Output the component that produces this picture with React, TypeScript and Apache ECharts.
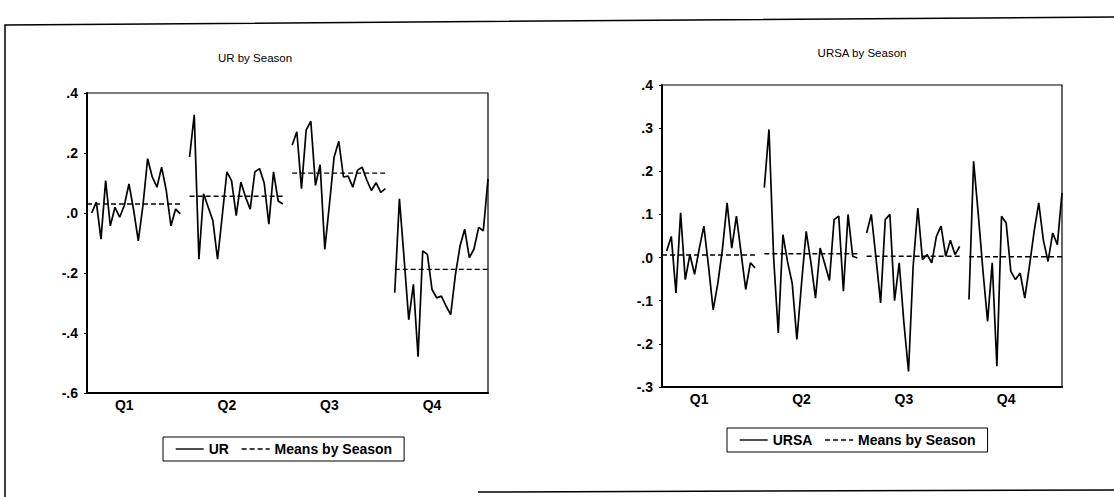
import React, { useEffect, useRef } from 'react';
import * as echarts from 'echarts';

// ---- data ----
const SEASONS = ['Q1', 'Q2', 'Q3', 'Q4'];

const UR_Q1 = [null, 0.0, 0.036, -0.087, 0.108, -0.043, 0.019, -0.014, 0.025, 0.097, 0.01, -0.093, 0.025, 0.181, 0.12, 0.086, 0.153, 0.075, -0.043, 0.013, -0.003];
const UR_Q2 = [0.187, 0.327, -0.154, 0.064, 0.019, -0.026, -0.154, -0.01, 0.137, 0.108, -0.009, 0.103, 0.053, 0.013, 0.137, 0.148, 0.1, -0.037, 0.137, 0.04, 0.03];
const UR_Q3 = [0.226, 0.271, 0.081, 0.276, 0.306, 0.092, 0.161, -0.121, 0.03, 0.187, 0.239, 0.12, 0.123, 0.086, 0.142, 0.153, 0.11, 0.075, 0.101, 0.069, 0.081];
const UR_Q4 = [-0.266, 0.047, -0.15, -0.356, -0.238, -0.479, -0.126, -0.138, -0.255, -0.283, -0.277, -0.31, -0.339, -0.207, -0.11, -0.054, -0.149, -0.12, -0.048, -0.059, 0.114];
const UR_MEANS = [0.03, 0.056, 0.133, -0.188];

const URSA_Q1 = [null, 0.015, 0.049, -0.082, 0.104, -0.051, 0.007, -0.039, 0.02, 0.073, -0.02, -0.121, -0.06, 0.02, 0.127, 0.022, 0.096, 0.011, -0.074, -0.012, -0.024];
const URSA_Q2 = [0.162, 0.297, 0.0, -0.175, 0.053, -0.01, -0.06, -0.19, -0.06, 0.061, -0.01, -0.094, 0.022, -0.015, -0.053, 0.088, 0.096, -0.078, 0.1, 0.003, -0.001];
const URSA_Q3 = [0.057, 0.1, 0.0, -0.105, 0.088, 0.1, -0.1, -0.012, -0.15, -0.264, -0.02, 0.115, -0.005, 0.007, -0.012, 0.049, 0.073, 0.003, 0.04, 0.007, 0.026];
const URSA_Q4 = [-0.097, 0.223, 0.1, -0.03, -0.148, -0.012, -0.252, 0.096, 0.08, -0.032, -0.051, -0.036, -0.094, -0.02, 0.06, 0.127, 0.04, -0.009, 0.057, 0.03, 0.15];
const URSA_MEANS = [0.006, 0.009, 0.003, 0.002];

const UR_AXIS = { min: -0.6, max: 0.4, interval: 0.2 };
const URSA_AXIS = { min: -0.3, max: 0.4, interval: 0.1 };

const FONT = "'Liberation Sans', Arial, Helvetica, sans-serif";
const PER = 21; // observations per season block
const GAP = 1;  // empty slots between seasons

function joinSeasons(parts: (number | null)[][]) {
  const out: (number | null)[] = [];
  parts.forEach((p, s) => {
    p.forEach((v) => out.push(v));
    if (s < parts.length - 1) for (let g = 0; g < GAP; g++) out.push(null);
  });
  return out;
}
function meanLine(means: number[]) {
  return joinSeasons(means.map((m) => new Array(PER).fill(m)));
}
function categories() {
  return joinSeasons(SEASONS.map(() => new Array(PER).fill(0))).map((_, i) => {
    const s = Math.floor(i / (PER + GAP));
    return i % (PER + GAP) < PER ? SEASONS[s] : '';
  });
}
function fmt(v: number) {
  const r = Math.round(v * 10) / 10;
  if (r === 0) return '.0';
  return (r < 0 ? '-' : '') + Math.abs(r).toFixed(1).replace(/^0/, '');
}

export default function App() {
  const ref = useRef<HTMLDivElement>(null);
  useEffect(() => {
    if (!ref.current) return;
    const chart = echarts.init(ref.current, undefined, { renderer: 'svg' });
    const cats = categories();
    const xAxisBase = (gridIndex: number) => ({
      type: 'category',
      gridIndex,
      data: cats,
      boundaryGap: false,
      axisLine: { show: true, onZero: false, lineStyle: { color: '#000', width: 2 } },
      axisTick: { show: false },
      splitLine: { show: false },
      axisLabel: {
        interval: (i: number) => i % (PER + GAP) === 8,
        color: '#000',
        fontSize: 14,
        fontWeight: 'bold',
        fontFamily: FONT,
        margin: 5,
      },
    });
    const yAxisBase = (gridIndex: number, ax: { min: number; max: number; interval: number }) => ({
      type: 'value',
      gridIndex,
      min: ax.min,
      max: ax.max,
      interval: ax.interval,
      axisLine: { show: true, onZero: false, lineStyle: { color: '#000', width: 2 } },
      axisTick: { show: true, length: 3, lineStyle: { color: '#000', width: 1 } },
      splitLine: { show: false },
      axisLabel: { formatter: fmt, color: '#000', fontSize: 14, fontWeight: 'bold', fontFamily: FONT, margin: 9 },
    });
    const lineS = (name: string, data: (number | null)[], idx: number, dashed: boolean) => ({
      name,
      type: 'line',
      xAxisIndex: idx,
      yAxisIndex: idx,
      data,
      symbol: 'none',
      showSymbol: false,
      connectNulls: false,
      lineStyle: { color: '#000', width: dashed ? 1.4 : 1.7, type: dashed ? [5, 3] : 'solid' },
      itemStyle: { color: '#000' },
      emphasis: { disabled: true },
    });
    const legendBase = (names: string[], left: number, top: number) => ({
      data: names,
      left,
      top,
      orient: 'horizontal',
      borderColor: '#000',
      borderWidth: 1,
      padding: [5, 12],
      itemWidth: 28,
      itemHeight: 14,
      itemGap: 12,
      itemStyle: { opacity: 0 },
      lineStyle: { width: 1.4 },
      textStyle: { color: '#000', fontSize: 14, fontWeight: 'bold', fontFamily: FONT },
    });
    chart.setOption({
      animation: false,
      textStyle: { fontFamily: FONT },
      grid: [
        { left: 87, top: 93, width: 401, height: 300, show: true, borderColor: '#000', borderWidth: 1.2, containLabel: false },
        { left: 662, top: 85, width: 400, height: 302, show: true, borderColor: '#000', borderWidth: 1.2, containLabel: false },
      ],
      xAxis: [xAxisBase(0), xAxisBase(1)],
      yAxis: [yAxisBase(0, UR_AXIS), yAxisBase(1, URSA_AXIS)],
      legend: [
        legendBase(['UR', 'Means by Season'], 163, 437),
        legendBase(['URSA', 'Means by Season'], 727, 428),
      ],
      series: [
        lineS('UR', joinSeasons([UR_Q1, UR_Q2, UR_Q3, UR_Q4]), 0, false),
        lineS('Means by Season', meanLine(UR_MEANS), 0, true),
        lineS('URSA', joinSeasons([URSA_Q1, URSA_Q2, URSA_Q3, URSA_Q4]), 1, false),
        lineS('Means by Season', meanLine(URSA_MEANS), 1, true),
      ],
      graphic: [
        { type: 'polyline', shape: { points: [[5, 497], [5, 25], [1114, 17]] }, style: { stroke: '#000', lineWidth: 1.5, fill: 'none' }, silent: true },
        { type: 'line', shape: { x1: 478, y1: 492, x2: 1114, y2: 490 }, style: { stroke: '#000', lineWidth: 1.5 }, silent: true },
        { type: 'text', x: 255, y: 58, style: { text: 'UR by Season', textAlign: 'center', textVerticalAlign: 'middle', font: `11.5px ${FONT}`, fill: '#000' } },
        { type: 'text', x: 862, y: 53, style: { text: 'URSA by Season', textAlign: 'center', textVerticalAlign: 'middle', font: `11.5px ${FONT}`, fill: '#000' } },
      ],
    });
    return () => chart.dispose();
  }, []);
  return <div ref={ref} style={{ position: 'fixed', left: 0, top: 0, width: 1114, height: 497, background: '#fff' }} />;
}
